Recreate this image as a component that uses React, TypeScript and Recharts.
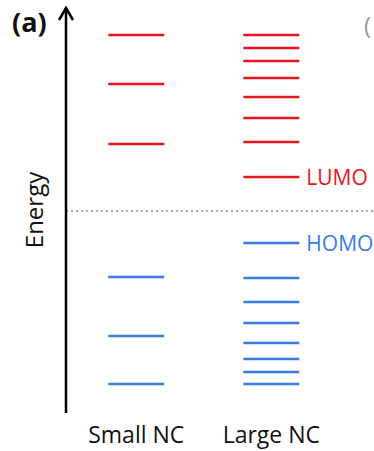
import React from "react";
import {
  ComposedChart,
  Scatter,
  XAxis,
  YAxis,
  ReferenceLine,
  Label,
} from "recharts";

// energy levels (arbitrary units, 0 = bottom of axis)
const sizes = ["Small NC", "Large NC"];
const smallLumo = [94.5, 82.25, 67.25];
const largeLumo = [94.5, 91.25, 88, 83.75, 79, 73.75, 67.75, 59];
const smallHomo = [34, 19.25, 7.25];
const largeHomo = [42.5, 33.75, 27.75, 22.5, 17.5, 13.5, 10.25, 7.25];
const midGap = 50.5;

const RED = "#e8141e";
const BLUE = "#3b7be6";
const FONT = "'Open Sans', 'Noto Sans', sans-serif";

const toLevels = (pos: number, values: number[], edgeTag?: string, edgeIndex?: number) =>
  values.map((e, i) => ({ x: pos, y: e, tag: i === edgeIndex ? edgeTag : undefined }));

const lumoData = [
  ...toLevels(1, smallLumo),
  ...toLevels(2, largeLumo, "LUMO", largeLumo.length - 1),
];
const homoData = [
  ...toLevels(1, smallHomo),
  ...toLevels(2, largeHomo, "HOMO", 0),
];

const makeLevel = (color: string) => (props: any) => {
  const { cx, cy, payload } = props;
  const half = 28;
  return (
    <g>
      <line x1={cx - half} x2={cx + half} y1={cy} y2={cy} stroke={color} strokeWidth={2.6} />
      {payload.tag && (
        <text
          x={cx + half + 7}
          y={cy}
          dominantBaseline="central"
          fill={color}
          fontSize={21}
          fontFamily={FONT}
        >
          {payload.tag}
        </text>
      )}
    </g>
  );
};

const AxisDecor = (props: any) => {
  const { viewBox } = props;
  const ax = viewBox.x + viewBox.width;
  const top = viewBox.y;
  const cy = 210;
  const tx = 33;
  return (
    <g>
      <polyline
        points={`${ax - 7},${top + 12} ${ax},${top} ${ax + 7},${top + 12}`}
        fill="none"
        stroke="#000"
        strokeWidth={2.5}
      />
      <text
        x={tx}
        y={cy}
        transform={`rotate(-90, ${tx}, ${cy})`}
        textAnchor="middle"
        dominantBaseline="central"
        fontSize={24}
        fontFamily={FONT}
        fill="#111"
      >
        Energy
      </text>
    </g>
  );
};

export default function App() {
  return (
    <div style={{ position: "absolute", left: 0, top: 0, width: 374, height: 451, background: "#fff" }}>
      <ComposedChart
        width={374}
        height={451}
        margin={{ top: 8, right: 0, bottom: 0, left: 0 }}
        style={{ fontFamily: FONT }}
      >
        <XAxis
          type="number"
          dataKey="x"
          domain={[0.48, 2.76]}
          ticks={[1, 2]}
          tickFormatter={(v: number) => sizes[v - 1]}
          axisLine={false}
          tickLine={false}
          tickMargin={8}
          height={38}
          tick={{ fontSize: 23, fill: "#111", fontFamily: FONT }}
          allowDataOverflow
        />
        <YAxis
          type="number"
          dataKey="y"
          domain={[0, 101.25]}
          width={66}
          tick={false}
          tickLine={false}
          axisLine={{ stroke: "#000", strokeWidth: 2.5 }}
          allowDataOverflow
        >
          <Label content={<AxisDecor />} />
        </YAxis>
        <ReferenceLine
          y={midGap}
          stroke="#9fb0b4"
          strokeWidth={2}
          strokeDasharray="2 3"
          ifOverflow="extendDomain"
        />
        <Scatter data={lumoData} shape={makeLevel(RED)} isAnimationActive={false} />
        <Scatter data={homoData} shape={makeLevel(BLUE)} isAnimationActive={false} />
      </ComposedChart>
      <div
        style={{
          position: "absolute",
          left: 12,
          top: 5,
          fontFamily: FONT,
          fontWeight: 700,
          fontSize: 27,
          color: "#111",
          lineHeight: "34px",
        }}
      >
        (a)
      </div>
      <div
        style={{
          position: "absolute",
          left: 364,
          top: 10,
          fontFamily: FONT,
          fontSize: 24,
          color: "#999",
          lineHeight: "30px",
          whiteSpace: "nowrap",
        }}
      >
        (
      </div>
    </div>
  );
}
